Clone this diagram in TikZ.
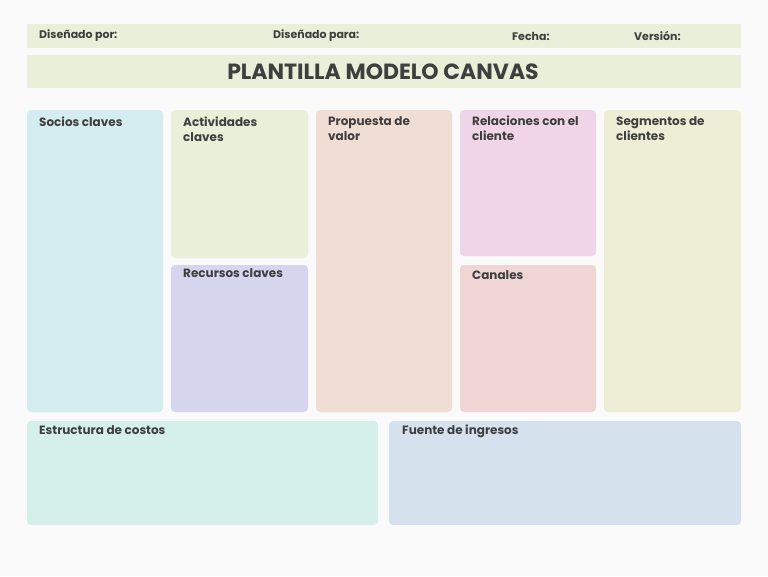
\documentclass[tikz,border=0pt]{standalone}
\usepackage{fontspec}
\setmainfont{Poppins}
\definecolor{txt}{HTML}{3F3F3F}
\definecolor{bg}{HTML}{FAFAFA}
\definecolor{cgreen}{HTML}{E9EFD8}
\definecolor{cblue}{HTML}{D5ECF0}
\definecolor{cviolet}{HTML}{D6D5EE}
\definecolor{cpeach}{HTML}{F0DED5}
\definecolor{cpink}{HTML}{F0D5E9}
\definecolor{crose}{HTML}{F0D5D5}
\definecolor{cbeige}{HTML}{EEEDD5}
\definecolor{cmint}{HTML}{D5F0E8}
\definecolor{csky}{HTML}{D5E2EE}
\tikzset{
 blk/.style={rounded corners=4pt, draw=none},
 lbl/.style={anchor=north west, text=txt, font=\fontsize{12}{15}\selectfont\bfseries, align=left, inner sep=0pt},
 hdr/.style={anchor=west, text=txt, font=\fontsize{11}{12}\selectfont\bfseries, inner sep=0pt}
}
\begin{document}
\begin{tikzpicture}[x=1pt,y=-1pt]
\fill[bg] (0,0) rectangle (768,576);
\useasboundingbox (0,0) rectangle (768,576);
\fill[cgreen] (27,24) rectangle (741,48);
\node[hdr] (h1) at (39,36) {Diseñado por:};
\node[hdr] (h2) at (273,36) {Diseñado para:};
\node[hdr] (h3) at (512,36) {Fecha:};
\node[hdr] (h4) at (634,36) {Versión:};
\fill[cgreen] (27,55) rectangle (741,88);
\node[text=txt, font=\fontsize{22}{24}\selectfont\bfseries] (title) at (383,71.5) {PLANTILLA MODELO CANVAS};
\fill[blk, cblue] (27,110) rectangle (163,412);
\fill[blk, cgreen] (171,110) rectangle (308,258);
\fill[blk, cviolet] (171,265) rectangle (308,412);
\fill[blk, cpeach] (316,110) rectangle (452,412);
\fill[blk, cpink] (460,110) rectangle (596,256);
\fill[blk, crose] (460,265) rectangle (596,412);
\fill[blk, cbeige] (604,110) rectangle (741,412);
\fill[blk, cmint] (27,421) rectangle (378,525);
\fill[blk, csky] (389,421) rectangle (741,525);
\node[lbl] (l1) at (39,117) {Socios claves};
\node[lbl] (l2) at (183,117) {Actividades\\claves};
\node[lbl] (l3) at (183,268) {Recursos claves};
\node[lbl] (l4) at (328,116) {Propuesta de\\valor};
\node[lbl] (l5) at (472,116) {Relaciones con el\\cliente};
\node[lbl] (l6) at (472,270) {Canales};
\node[lbl] (l7) at (616,116) {Segmentos de\\clientes};
\node[lbl] (l8) at (39,425) {Estructura de costos};
\node[lbl] (l9) at (402,425) {Fuente de ingresos};
\end{tikzpicture}
\end{document}
